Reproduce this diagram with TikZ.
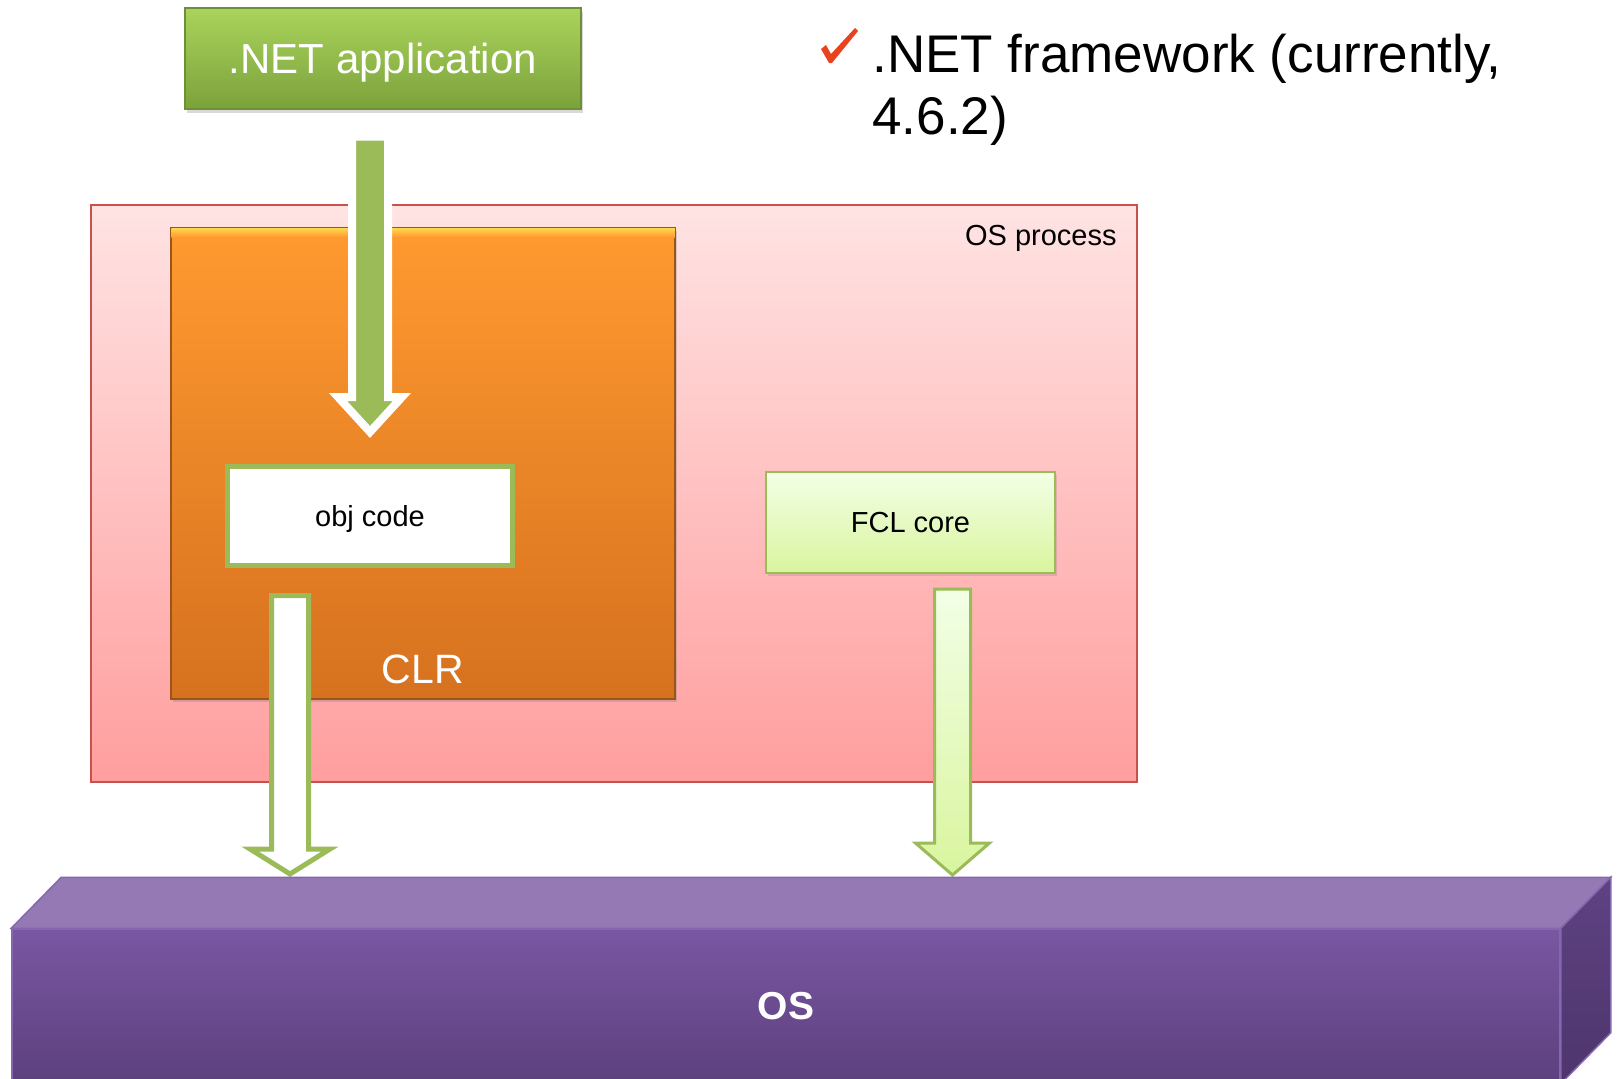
\documentclass[tikz,border=0pt]{standalone}
\usepackage{fontspec}
\setmainfont{Liberation Sans}
\usetikzlibrary{calc,shadows,positioning}

\definecolor{procTop}{HTML}{FFE3E3}
\definecolor{procBottom}{HTML}{FF9E9E}
\definecolor{procBorder}{HTML}{C8504D}
\definecolor{clrTop}{HTML}{FF9A30}
\definecolor{clrBottom}{HTML}{D6711F}
\definecolor{clrEdge}{HTML}{9C5518}
\definecolor{clrGlow}{HTML}{FFD54A}
\definecolor{appTop}{HTML}{AAD45C}
\definecolor{appBottom}{HTML}{7CA13B}
\definecolor{appBorder}{HTML}{6E8F35}
\definecolor{fclTop}{HTML}{F2FFE6}
\definecolor{fclBottom}{HTML}{D9F59E}
\definecolor{arrowGreen}{HTML}{9BBB59}
\definecolor{osTop}{HTML}{9579B5}
\definecolor{osFrontTop}{HTML}{7A57A2}
\definecolor{osFrontBottom}{HTML}{5C407E}
\definecolor{osSideTop}{HTML}{5E4283}
\definecolor{osSideBottom}{HTML}{4E356C}
\definecolor{osEdge}{HTML}{8467AE}
\definecolor{checkRed}{HTML}{E8431E}

% block arrow pointing down: style, from, to, shaft half width, head half width, head length
\newcommand{\dnarrow}[6]{%
  \path[#1] ($(#2)+(-#4,0)$) -- ($(#2)+(#4,0)$) -- ($(#3)+(#4,-#6)$) -- ($(#3)+(#5,-#6)$)
    -- (#3) -- ($(#3)+(-#5,-#6)$) -- ($(#3)+(-#4,-#6)$) -- cycle;}

\begin{document}
\begin{tikzpicture}[x=1pt,y=-1pt,thick,
box node/.style={rectangle,inner sep=0pt,font=\fontsize{29}{34}\selectfont},
app node/.style={box node,minimum width=396pt,minimum height=101pt,text depth=0pt,top color=appTop,bottom color=appBottom,draw=appBorder,line width=1.5pt,text=white,font=\fontsize{42}{50}\selectfont,drop shadow={shadow xshift=2pt,shadow yshift=-4pt,opacity=0.3}},
proc node/.style={box node,minimum width=1046pt,minimum height=577pt,top color=procTop,bottom color=procBottom,draw=procBorder,line width=2pt},
clr node/.style={box node,minimum width=504pt,minimum height=471pt,top color=clrTop,bottom color=clrBottom,draw=clrEdge,line width=1.5pt,drop shadow={shadow xshift=2pt,shadow yshift=-3pt,opacity=0.3}},
obj node/.style={box node,minimum width=285pt,minimum height=99pt,text depth=0pt,fill=white,draw=arrowGreen,line width=5pt},
fcl node/.style={box node,minimum width=289pt,minimum height=101pt,top color=fclTop,bottom color=fclBottom,draw=arrowGreen,line width=2pt,drop shadow={shadow xshift=2pt,shadow yshift=-3pt,opacity=0.25}},
os node/.style={box node,minimum width=1548pt,minimum height=154pt,top color=osFrontTop,bottom color=osFrontBottom,draw=osEdge,line width=1.5pt,text=white,font=\fontsize{39}{46}\selectfont\bfseries},
flow arrow/.style={fill=arrowGreen,draw=white,line width=8pt,line join=miter},
out arrow/.style={fill=white,draw=arrowGreen,line width=5pt,line join=miter},
lib arrow/.style={top color=fclTop,bottom color=fclBottom,draw=arrowGreen,line width=3pt,line join=miter}]

\useasboundingbox (0,0) rectangle (1618,1079);
\clip (0,0) rectangle (1618,1079);

%Process
\node[proc node] (proc) at (614,493.5) {};
\node[box node,anchor=base east] (proclabel) at (1117,245) {OS process};

%CLR
\node[clr node] (clr) at (423,463.5) {};
\shade[top color=clrGlow,bottom color=clrTop] ($(clr.north west)+(1,1)$) rectangle ($(clr.north east)+(-1,10)$);
\node[box node,anchor=base,text=white,font=\fontsize{41}{48}\selectfont] (clrlabel) at (423,683) {CLR};
\node[obj node] (obj) at (370,516) {obj code};

%Library
\node[fcl node] (fcl) at (910.5,522.5) {FCL core};

%Paths
\coordinate (app out) at (370,136.5);
\coordinate (obj in) at (370,432);
\coordinate (obj out) at (290,595.5);
\coordinate (os in1) at (290,874);
\coordinate (fcl out) at (952.5,589);
\coordinate (os in2) at (952.5,875);
\dnarrow{flow arrow}{app out}{obj in}{18}{32}{35}
\dnarrow{out arrow}{obj out}{os in1}{18.5}{40}{25}
\dnarrow{lib arrow}{fcl out}{os in2}{18}{37}{32}

%Application
\node[app node] (app) at (383,58.5) {.NET application};

%OS
\node[os node] (os) at (786,1006) {OS};
\path[fill=osTop,draw=osEdge,line width=1.5pt] (os.north west) -- ($(os.north west)+(50,-51)$)
  -- ($(os.north east)+(50,-51)$) -- (os.north east) -- cycle;
\path[top color=osSideTop,bottom color=osSideBottom,draw=osEdge,line width=1.5pt] (os.north east)
  -- ($(os.north east)+(50,-51)$) -- ($(os.south east)+(50,-51)$) -- (os.south east) -- cycle;

%Note
\fill[checkRed] (821,49) -- (826,45) -- (831,54) -- (855,28) -- (858,31) -- (832,63) -- (829,63) -- cycle;
\node[anchor=base west,inner sep=0pt,align=left,font=\fontsize{53}{62}\selectfont] (note) at (872,134)
  {.NET framework (currently,\\4.6.2)};
\end{tikzpicture}
\end{document}
